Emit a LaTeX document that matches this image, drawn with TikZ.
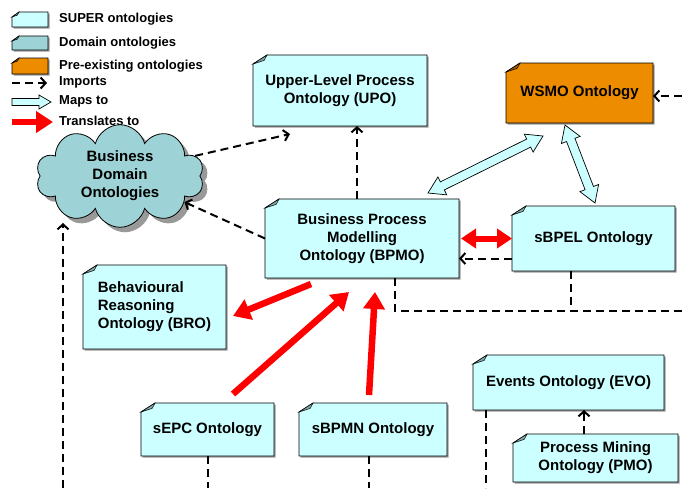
\documentclass[tikz,border=0pt]{standalone}
\usepackage{fontspec}
\setmainfont{Liberation Sans}
\usepackage{tikz}
\usetikzlibrary{arrows.meta,calc,positioning,shadows,shapes.symbols}
\definecolor{super}{HTML}{CCFFFF}
\definecolor{domain}{HTML}{9DD3D6}
\definecolor{preex}{HTML}{EE8C00}
\pgfdeclarelayer{background}
\pgfsetlayers{background,main}
\tikzset{
	note/.style n args={3}{
		inner sep=0pt, outer sep=0pt, align=center,
		prefix after command={\pgfextra{\let\fixname\tikzlastnode}},
		append after command={\pgfextra{\begin{pgfonlayer}{background}
			\draw[fill=#1, line width=.8pt,
				drop shadow={shadow xshift=1.5pt, shadow yshift=-1.5pt, fill=black!40, opacity=1}]
				([yshift=-#3]\fixname.north west) -- ([xshift=#2]\fixname.north west)
				-- (\fixname.north east) -- (\fixname.south east)
				-- (\fixname.south west) -- cycle;
			\draw[fill=#1!65!black, line width=.5pt]
				([yshift=-#3]\fixname.north west) -- ([xshift=#2]\fixname.north west)
				-- ([xshift=.8*#2, yshift=-.6*#3]\fixname.north west) -- cycle;
			\end{pgfonlayer}}}},
	onto/.style={note={#1}{14pt}{9pt}, font=\fontsize{15}{18}\selectfont\bfseries},
	onto/.default=super,
	key/.style={note={#1}{7pt}{5pt}},
	legend/.style={anchor=west, inner sep=0pt, font=\fontsize{13}{15}\selectfont\bfseries},
	imp/.style={line width=2pt, dash pattern=on 8pt off 5pt,
		-{Straight Barb[length=5pt,width=11pt]}},
	dline/.style={line width=2pt, dash pattern=on 8pt off 5pt},
	trans/.style={draw=red, line width=6.5pt, -{Triangle[length=17pt,width=21pt]}},
	maps/.style={draw, fill=super, line width=.7pt, line join=miter},
	diagram/.style={x=1pt, y=-1pt}
}
\newcommand\mapsarrow[2]{%
	\coordinate (ma) at ($(#1)!16pt!(#2)$);
	\coordinate (mb) at ($(#2)!16pt!(#1)$);
	\draw[maps] (#1) -- ($(ma)!10pt!90:(#2)$) -- ($(ma)!4.5pt!90:(#2)$)
		-- ($(mb)!4.5pt!-90:(#1)$) -- ($(mb)!10pt!-90:(#1)$) -- (#2)
		-- ($(mb)!10pt!90:(#1)$) -- ($(mb)!4.5pt!90:(#1)$)
		-- ($(ma)!4.5pt!-90:(#2)$) -- ($(ma)!10pt!-90:(#2)$) -- cycle;}

\begin{document}
\begin{tikzpicture}[diagram]
	\useasboundingbox (0,0) rectangle (682,488);
	% legend
	\node[key=super, minimum width=36pt, minimum height=15pt] (k1) at (30,19.5) {};
	\node[key=domain, minimum width=36pt, minimum height=14pt] (k2) at (30,43) {};
	\node[key=preex, minimum width=36pt, minimum height=16pt] (k3) at (30,66) {};
	\node[legend, right=11pt of k1] (l1) {SUPER ontologies};
	\node[legend, right=11pt of k2] (l2) {Domain ontologies};
	\node[legend, right=11pt of k3] (l3) {Pre-existing ontologies};
	\node[legend] (l4) at (59,82) {Imports};
	\node[legend] (l5) at (59,101) {Maps to};
	\node[legend] (l6) at (59,121) {Translates to};
	\draw[imp] (12,83) -- (47,83);
	\draw[maps] (12,98.5) -- (39,98.5) -- (39,95) -- (51,102) -- (39,109)
		-- (39,105.5) -- (12,105.5) -- cycle;
	\draw[trans] (12,122) -- (53,122);

	% ontologies
	\node[onto, minimum width=174pt, minimum height=71pt] (UPO) at (340,90.5)
		{Upper-Level Process\\Ontology (UPO)};
	\node[onto=preex, minimum width=147pt, minimum height=60pt] (WSMO) at (579.5,93)
		{WSMO Ontology};
	\node[cloud, cloud puffs=10, aspect=2.1, draw, fill=domain, line width=.8pt,
		drop shadow={shadow xshift=5pt, shadow yshift=-5pt, fill=black!40, opacity=1},
		minimum width=168pt, minimum height=80pt, inner sep=0pt, align=center,
		font=\fontsize{15}{18}\selectfont\bfseries] (BDO) at (120,176)
		{Business\\Domain\\Ontologies};
	\node[onto, minimum width=194pt, minimum height=79pt] (BPMO) at (362,238.5)
		{Business Process\\Modelling\\Ontology (BPMO)};
	\node[onto, minimum width=163pt, minimum height=65pt, right=53pt of BPMO] (sBPEL)
		{sBPEL Ontology};
	\node[onto, align=left, minimum width=143pt, minimum height=84pt] (BRO) at (154.5,307)
		{Behavioural\\Reasoning\\Ontology (BRO)};
	\node[onto, minimum width=133pt, minimum height=53pt] (sEPC) at (207.5,429.5)
		{sEPC Ontology};
	\node[onto, minimum width=148pt, minimum height=53pt, right=25pt of sEPC] (sBPMN)
		{sBPMN Ontology};
	\node[onto, minimum width=191pt, minimum height=55pt] (EVO) at (568.5,382.5)
		{Events Ontology (EVO)};
	\node[onto, minimum width=165pt, minimum height=48pt] (PMO) at (595.5,458)
		{Process Mining\\Ontology (PMO)};

	% free ends
	\coordinate (lbot) at (63,488);
	\coordinate (bdoin) at (63,223);
	\coordinate (rtop) at (682,96);
	\coordinate (rmid) at (682,311);
	\coordinate (upoin) at ([xshift=37pt,yshift=-8pt]UPO.south west);

	% imports
	\draw[imp] ([xshift=-5pt]BPMO.north) -- ([xshift=-5pt]BPMO.north |- UPO.south);
	\draw[imp] (BDO.15) -- (upoin);
	\draw[imp] (BPMO.west) -- (BDO.-22);
	\draw[imp] (lbot) -- (bdoin);
	\draw[imp] (rtop) -- (rtop -| WSMO.east);
	\draw[imp] ([yshift=-20pt]sBPEL.west) -- ([yshift=-20pt]sBPEL.west -| BPMO.east);
	\draw[imp] ([xshift=-11.5pt]PMO.north) -- ([xshift=-11.5pt]PMO.north |- EVO.south);
	\draw[dline] ([xshift=33pt]BPMO.south) |- (rmid);
	\draw[dline] ([xshift=-22.5pt]sBPEL.south) -- ([xshift=-22.5pt]sBPEL.south |- rmid);
	\draw[dline] (sEPC.south) -- (sEPC.south |- lbot);
	\draw[dline] ([xshift=-4pt]sBPMN.south) -- ([xshift=-4pt]sBPMN.south |- lbot);
	\draw[dline] ([xshift=13pt]EVO.south west) -- ([xshift=13pt]EVO.south west |- lbot);

	% translates to
	\draw[trans] ([xshift=46pt,yshift=-6pt]BPMO.south west) -- ([xshift=7pt,yshift=-9pt]BRO.east);
	\draw[trans] ([xshift=92pt,yshift=9pt]sEPC.north west) -- ([xshift=84pt,yshift=-14pt]BPMO.south west);
	\draw[trans] ([xshift=70pt,yshift=8pt]sBPMN.north west) -- ([xshift=110pt,yshift=-14pt]BPMO.south west);
	\draw[trans, line width=6pt, {Triangle[length=15pt,width=19pt]}-{Triangle[length=15pt,width=19pt]}]
		([xshift=2pt]BPMO.east) -- (sBPEL.west);

	% maps to
	\coordinate (m1) at ([xshift=-31pt,yshift=6pt]BPMO.north east);
	\coordinate (m2) at ([xshift=37pt,yshift=-13pt]WSMO.south west);
	\coordinate (m3) at ([xshift=59pt,yshift=-2pt]WSMO.south west);
	\coordinate (m4) at ([xshift=83pt,yshift=3pt]sBPEL.north west);
	\mapsarrow{m1}{m2}
	\mapsarrow{m3}{m4}
\end{tikzpicture}
\end{document}
